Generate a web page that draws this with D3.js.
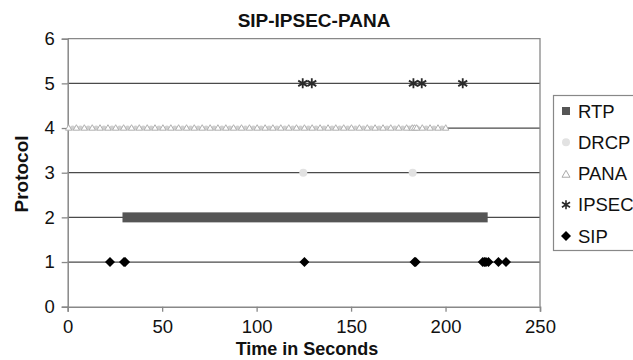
<!DOCTYPE html>
<html>
<head>
<meta charset="utf-8">
<script src="https://cdn.jsdelivr.net/npm/d3@7"></script>
<style>
  html, body { margin: 0; padding: 0; background: #fff; }
  svg { display: block; font-family: "Liberation Sans", Arial, sans-serif; }
</style>
</head>
<body>
<svg id="chart" width="633" height="360"></svg>
<script>
// Message times (seconds) for each protocol, with the protocol level on the y axis
const xTicks = [0, 50, 100, 150, 200, 250];
const yTicks = [0, 1, 2, 3, 4, 5, 6];

const rtpSpan = [29, 222.3];           // continuous RTP stream, level 2
const rtpLevel = 2;

const drcpTimes = [124.7, 182.6];      // level 3
const drcpLevel = 3;
const drcpTimes4 = [2.6, 6.7, 10.9, 15.1, 19.2, 23.4, 27.5, 31.7, 35.9, 40.0, 44.2, 48.3,
  52.5, 56.7, 60.8, 65.0, 69.1, 73.3, 77.5, 81.6, 85.8, 89.9, 94.1, 98.3, 102.4, 106.6,
  110.7, 114.9, 119.1, 123.2, 127.4, 131.5, 135.7, 139.9, 144.0, 148.2, 152.3, 156.5,
  160.7, 164.8, 169.0, 173.1, 177.3, 181.0, 183.0, 185.1, 189.8, 193.9, 198.1];
const drcpLevel4 = 4;

const panaTimes = [0.5, 4.6, 8.8, 13.0, 17.1, 21.3, 25.4, 29.6, 33.8, 37.9, 42.1, 46.2,
  50.4, 54.6, 58.7, 62.9, 67.0, 71.2, 75.4, 79.5, 83.7, 87.8, 92.0, 96.2, 100.3, 104.5,
  108.6, 112.8, 117.0, 121.1, 125.3, 129.4, 133.6, 137.8, 141.9, 146.1, 150.2, 154.4,
  158.6, 162.7, 166.9, 171.0, 175.2, 179.4, 182.4, 183.6, 184.7, 187.7, 191.8, 196.0, 200.1];
const panaLevel = 4;

const ipsecTimes = [124.4, 129.2, 183.0, 187.4, 209.1];
const ipsecLevel = 5;

const sipTimes = [22.4, 29.8, 30.4, 125.3, 183.6, 184.2, 219.7, 220.6, 221.4, 222.7, 228.0, 232.0];
const sipLevel = 1;

const legendNames = ["RTP", "DRCP", "PANA", "IPSEC", "SIP"];

const svg = d3.select("#chart");
const x = d3.scaleLinear().domain([0, 250]).range([67.7, 540]);
const y = d3.scaleLinear().domain([0, 6]).range([306.7, 38.7]);

const gridColor = "#4a4a4a";
const frameColor = "#888";

// Horizontal gridlines at every level
svg.append("g")
  .selectAll("line")
  .data(yTicks.filter(d => d > 0 && d < 6))
  .join("line")
  .attr("x1", x(0)).attr("x2", x(250))
  .attr("y1", d => y(d)).attr("y2", d => y(d))
  .attr("stroke", gridColor).attr("stroke-width", 1.2);

// Plot frame: top and right edges
svg.append("path")
  .attr("d", `M${x(0)},${y(6)}H${x(250)}V${y(0)}`)
  .attr("fill", "none").attr("stroke", frameColor).attr("stroke-width", 1.3);

// Axes
const yAxis = svg.append("g")
  .attr("transform", `translate(${x(0)},0)`)
  .call(d3.axisLeft(y).tickValues(yTicks).tickFormat(d3.format("d")).tickSize(6).tickPadding(7));
const xAxis = svg.append("g")
  .attr("transform", `translate(0,${y(0)})`)
  .call(d3.axisBottom(x).tickValues(xTicks).tickFormat(d3.format("d")).tickSize(5).tickPadding(8));
[xAxis, yAxis].forEach(a => {
  a.select(".domain").attr("stroke", frameColor).attr("stroke-width", 1.5);
  a.selectAll(".tick line").attr("stroke", frameColor).attr("stroke-width", 1.3);
  a.selectAll("text").attr("fill", "#111").attr("font-size", 18.5)
    .attr("font-family", "'Liberation Sans', Arial, sans-serif");
});

// Marker shapes
const diamond = r => `M0,${-r}L${r},0L0,${r}L${-r},0Z`;
const asterisk = r => `M0,${-r}V${r}M${-r * 0.9},${-r * 0.55}L${r * 0.9},${r * 0.55}M${-r * 0.9},${r * 0.55}L${r * 0.9},${-r * 0.55}`;
const triangle = r => `M0,${-r}L${r * 0.95},${r * 0.65}L${-r * 0.95},${r * 0.65}Z`;

// RTP: continuous stream drawn as a thick band
svg.append("rect")
  .attr("x", x(rtpSpan[0])).attr("width", x(rtpSpan[1]) - x(rtpSpan[0]))
  .attr("y", y(rtpLevel) - 5).attr("height", 10)
  .attr("fill", "#555");

// DRCP at level 4 (background dots behind the PANA triangles)
svg.append("g").selectAll("circle")
  .data(drcpTimes4).join("circle")
  .attr("cx", d => x(d)).attr("cy", y(drcpLevel4)).attr("r", 2.6)
  .attr("fill", "#d0d0d0");

// PANA triangles
svg.append("g").selectAll("path")
  .data(panaTimes).join("path")
  .attr("transform", d => `translate(${x(d)},${y(panaLevel)})`)
  .attr("d", triangle(3.3))
  .attr("fill", "#fff").attr("stroke", "#b0b0b0").attr("stroke-width", 1);

// DRCP at level 3
svg.append("g").selectAll("circle")
  .data(drcpTimes).join("circle")
  .attr("cx", d => x(d)).attr("cy", y(drcpLevel)).attr("r", 4)
  .attr("fill", "#e2e2e2");

// IPSEC asterisks
svg.append("g").selectAll("path")
  .data(ipsecTimes).join("path")
  .attr("transform", d => `translate(${x(d)},${y(ipsecLevel)})`)
  .attr("d", asterisk(5))
  .attr("fill", "none").attr("stroke", "#2a2a2a").attr("stroke-width", 1.8);

// SIP diamonds
svg.append("g").selectAll("path")
  .data(sipTimes).join("path")
  .attr("transform", d => `translate(${x(d)},${y(sipLevel)})`)
  .attr("d", diamond(5))
  .attr("fill", "#000");

// Title and axis titles
svg.append("text")
  .attr("x", 314).attr("y", 27).attr("text-anchor", "middle")
  .attr("font-size", 19).attr("font-weight", "bold").attr("fill", "#111")
  .text("SIP-IPSEC-PANA");
svg.append("text")
  .attr("transform", "translate(28,174) rotate(-90)")
  .attr("text-anchor", "middle")
  .attr("font-size", 19).attr("font-weight", "bold").attr("fill", "#111")
  .text("Protocol");
svg.append("text")
  .attr("x", 307).attr("y", 355).attr("text-anchor", "middle")
  .attr("font-size", 18).attr("font-weight", "bold").attr("fill", "#111")
  .text("Time in Seconds");

// Legend
const legend = svg.append("g");
legend.append("rect")
  .attr("x", 553.5).attr("y", 95.5).attr("width", 100).attr("height", 155)
  .attr("fill", "#fff").attr("stroke", frameColor).attr("stroke-width", 1.2);
const legendY = d3.scalePoint().domain(legendNames).range([111, 236]);
const mx = 566;
legend.append("rect")
  .attr("x", mx - 4).attr("y", legendY("RTP") - 4).attr("width", 8).attr("height", 8)
  .attr("fill", "#555");
legend.append("circle")
  .attr("cx", mx).attr("cy", legendY("DRCP")).attr("r", 4).attr("fill", "#e2e2e2");
legend.append("path")
  .attr("transform", `translate(${mx},${legendY("PANA") + 1})`)
  .attr("d", triangle(4.2)).attr("fill", "#fff").attr("stroke", "#aaa").attr("stroke-width", 1);
legend.append("path")
  .attr("transform", `translate(${mx},${legendY("IPSEC")})`)
  .attr("d", asterisk(4.5)).attr("fill", "none").attr("stroke", "#2a2a2a").attr("stroke-width", 1.6);
legend.append("path")
  .attr("transform", `translate(${mx},${legendY("SIP")})`)
  .attr("d", diamond(5)).attr("fill", "#000");
legend.selectAll("text.lbl")
  .data(legendNames).join("text")
  .attr("class", "lbl")
  .attr("x", 578).attr("y", d => legendY(d) + 6.5)
  .attr("font-size", 18.5).attr("fill", "#111")
  .text(d => d);
</script>
</body>
</html>
